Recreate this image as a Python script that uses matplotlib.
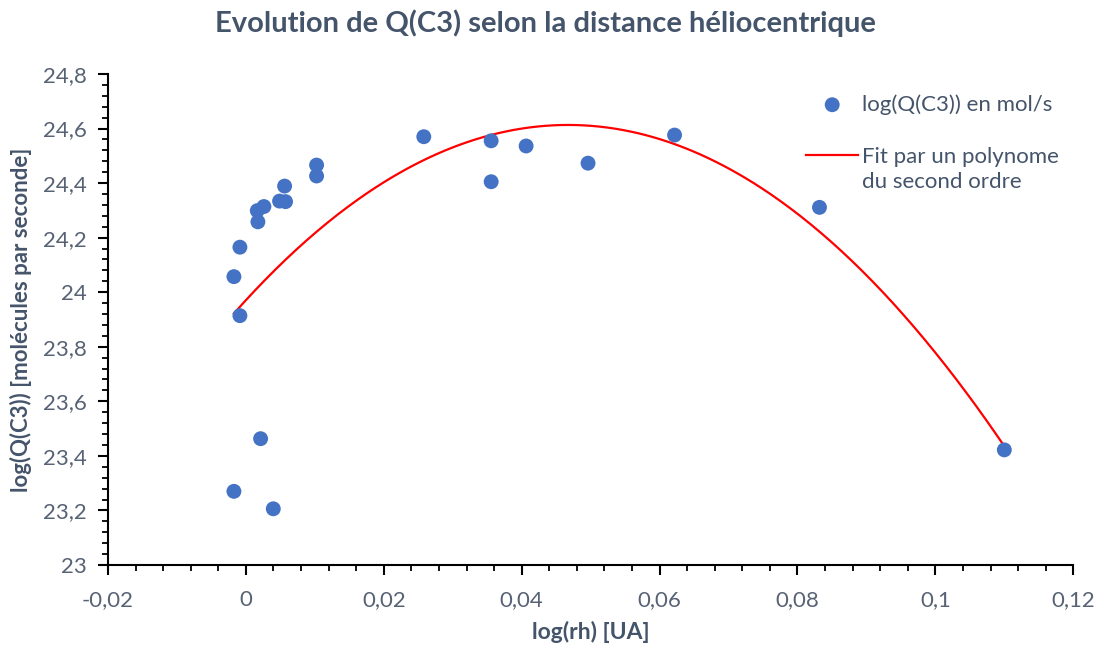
import numpy as np
import matplotlib
matplotlib.use('Agg')
import matplotlib.pyplot as plt
from matplotlib.ticker import MultipleLocator, FuncFormatter
from matplotlib.legend_handler import HandlerLine2D

# log(rh) [UA] et log(Q(C3))
log_rh = [-0.00174, -0.00087, -0.00087, 0.00165, 0.00261, 0.00174, 0.00488,
          0.00575, 0.00561, 0.01025, 0.01025, -0.00174, 0.00213, 0.00397,
          0.0258, 0.03557, 0.03557, 0.04064, 0.04962, 0.06217, 0.08319, 0.1100]
log_q = [24.057, 24.165, 23.914, 24.299, 24.314, 24.258, 24.334,
         24.332, 24.389, 24.466, 24.426, 23.270, 23.463, 23.206,
         24.570, 24.555, 24.405, 24.536, 24.473, 24.576, 24.311, 23.422]

title = 'Evolution de Q(C3) selon la distance héliocentrique'
xlabel = 'log(rh) [UA]'
ylabel = 'log(Q(C3)) [molécules par seconde]'
label_pts = 'log(Q(C3)) en mol/s'
label_fit = 'Fit par un polynome\ndu second ordre'

TXT = '#44546A'
TICK = '#576274'
BLUE = '#4472C4'

plt.rcParams['font.family'] = ['Lato', 'DejaVu Sans']


class TopLine(HandlerLine2D):
    # put the line next to the first line of a two-line label
    def create_artists(self, legend, orig_handle, xdescent, ydescent, width,
                       height, fontsize, trans):
        arts = super().create_artists(legend, orig_handle, xdescent, ydescent,
                                      width, height, fontsize, trans)
        for a in arts:
            a.set_ydata(np.asarray(a.get_ydata()) + 0.68 * fontsize)
        return arts


fig = plt.figure(figsize=(11, 6.5), dpi=100)
ax = fig.add_axes([0.0982, 0.1308, 0.8775, 0.7554])

x = np.array(log_rh)
y = np.array(log_q)

# trend line (least squares, 2nd order) like the Excel one
coef = np.polyfit(x, y, 2)
xf = np.linspace(x.min(), x.max(), 300)
yf = np.polyval(coef, xf)

ax.scatter(x, y, s=115, color=BLUE, edgecolors='none', zorder=3, label=label_pts)
fit_line, = ax.plot(xf, yf, color='#FF0000', lw=1.6, zorder=2, label=label_fit)

ax.set_xlim(-0.02, 0.12)
ax.set_ylim(23, 24.8)
ax.xaxis.set_major_locator(MultipleLocator(0.02))
ax.xaxis.set_minor_locator(MultipleLocator(0.004))
ax.yaxis.set_major_locator(MultipleLocator(0.2))
ax.yaxis.set_minor_locator(MultipleLocator(0.04))

def fmt(v, pos):
    return ('%g' % round(v, 3)).replace('.', ',')

ax.xaxis.set_major_formatter(FuncFormatter(fmt))
ax.yaxis.set_major_formatter(FuncFormatter(fmt))

for s in ['top', 'right']:
    ax.spines[s].set_visible(False)
for s in ['left', 'bottom']:
    ax.spines[s].set_color('black')
    ax.spines[s].set_linewidth(1.5)

ax.tick_params(which='major', direction='out', length=7, width=1.5, colors='black',
               labelcolor=TICK, labelsize=16)
ax.tick_params(which='minor', direction='out', length=4, width=1.3, colors='black')
ax.tick_params(axis='y', which='major', pad=8)
ax.tick_params(axis='x', which='major', pad=11)

ax.set_xlabel(xlabel, fontsize=16.5, fontweight='bold', color=TXT, labelpad=8)
ax.set_ylabel(ylabel, fontsize=16, fontweight='bold', color=TXT, labelpad=8)
fig.suptitle(title, fontsize=21, fontweight='bold', color=TXT, x=0.496, y=0.985)

leg = ax.legend(loc='upper left', bbox_to_anchor=(0.7026, 1.0), frameon=False,
                fontsize=16, labelcolor=TXT, handlelength=2.34, handletextpad=0.18,
                labelspacing=1.45, handler_map={fit_line: TopLine()})
for t in leg.get_texts():
    t.set_linespacing(1.35)

fig.savefig('out.png', dpi=100)
